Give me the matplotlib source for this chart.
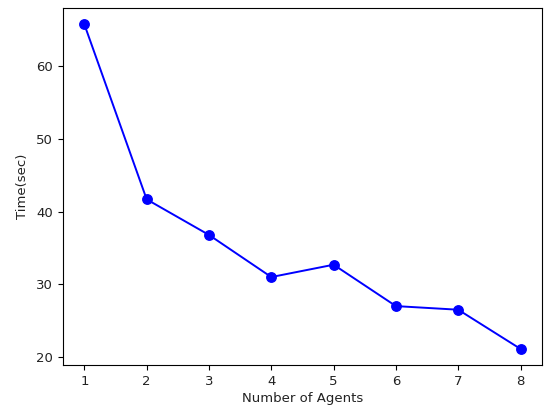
#!/usr/bin/env python3

# Time taken vs number of agents

import matplotlib
matplotlib.use('Agg')
import matplotlib.pyplot as plt

agents = [1, 2, 3, 4, 5, 6, 7, 8]
times = [65.8, 41.7, 36.8, 31.0, 32.7, 27.0, 26.5, 21.1]


def graph():
    fig = plt.figure(figsize=(5.44, 4.08), dpi=100)
    ax = fig.add_axes([0.115, 0.105, 0.882, 0.875])
    ax.plot(agents, times, 'bo-', markersize=6.8, linewidth=1.4)
    ax.set_xlabel('Number of Agents', fontsize=9.5, color='#222222', labelpad=3)
    ax.set_ylabel('Time(sec)', fontsize=9.5, color='#222222', labelpad=5)
    ax.tick_params(labelsize=9.5, labelcolor='#222222')
    fig.savefig('out.png', dpi=100)


if __name__ == "__main__":
    graph()
